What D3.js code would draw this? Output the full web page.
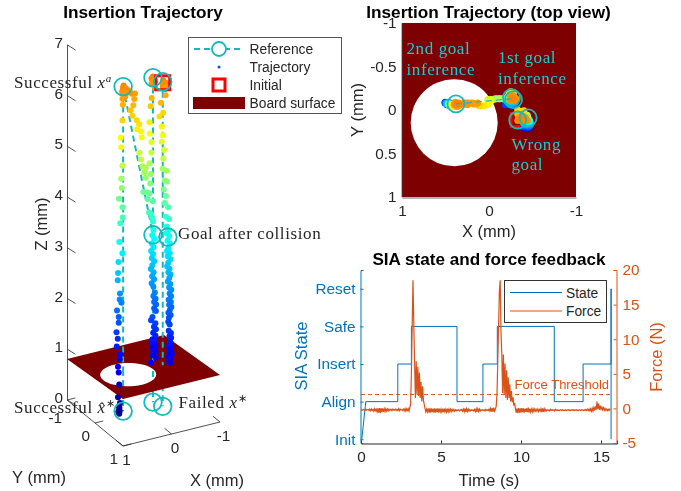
<!DOCTYPE html>
<html>
<head>
<meta charset="utf-8">
<script src="https://cdnjs.cloudflare.com/ajax/libs/d3/7.8.5/d3.min.js"></script>
<style>
html, body { margin: 0; padding: 0; background: #fff; }
svg { display: block; filter: blur(.35px); }
text { font-family: "Liberation Sans", Arial, sans-serif; fill: #262626; }
.serif { font-family: "Liberation Serif", serif; font-size: 17px; letter-spacing: .6px; }
</style>
</head>
<body>
<svg id="chart" width="681" height="491"></svg>
<script>
// trajectory samples, [x, y, z] in mm
var trackRight = [
    [-.35,.10,6.42],[-.33,.12,6.38],[-.36,.08,6.34],[-.34,.10,6.3],[-.40,.10,6.36],[-.44,.12,6.32],[-.38,.13,6.3],
    [-.42,.09,6.27],[-.385,.09,6.23],[-.41,.08,6.1],[-.33,.05,5.96],
    [-.40,.01,5.73],[-.33,.0,5.67],[-.365,.02,5.47],[-.38,.03,5.3],[-.365,.02,5.17],[-.40,.04,5.01],[-.38,.05,4.85],
    [-.365,.05,4.65],[-.44,.06,4.6],[-.40,.07,4.42],[-.44,.08,4.39],[-.37,.08,4.25],[-.41,.09,4.12],[-.38,.10,3.99],
    [-.45,.10,3.89],[-.40,.11,3.72],[-.46,.11,3.66],[-.41,.12,3.53],[-.44,.12,3.45],[-.40,.13,3.4],[-.46,.12,3.33],
    [-.42,.13,3.25],[-.47,.13,3.18],[-.43,.14,3.1],[-.41,.13,3.05],[-.46,.14,3],[-.42,.14,2.95],[-.47,.15,2.88],
    [-.43,.14,2.82],[-.40,.15,2.76],[-.45,.15,2.7],[-.42,.16,2.64],[-.47,.15,2.58],[-.44,.16,2.52],[-.41,.16,2.46],
    [-.46,.16,2.4],[-.43,.17,2.34],[-.48,.16,2.28],[-.44,.17,2.22],[-.47,.17,2.16],[-.42,.17,2.1],[-.46,.18,2.05],
    [-.43,.17,2],[-.47,.18,1.95],[-.44,.18,1.9],[-.41,.18,1.85],[-.45,.19,1.8],[-.42,.18,1.75],[-.40,.19,1.68],
    [-.43,.19,1.62],[-.41,.19,1.5],[-.45,.20,1.45],[-.42,.20,1.4],[-.46,.19,1.35],[-.43,.20,1.3],[-.45,.20,1.25],
    [-.41,.20,1.2],[-.44,.21,1.15],[-.42,.20,1.1],[-.46,.21,1.05],[-.40,.21,1],[-.44,.20,.96],[-.41,.21,.91],[-.43,.20,.87]
];
var trackMiddle = [
    [-.27,-.13,6.42],[-.25,-.15,6.38],[-.29,-.12,6.35],[-.26,-.11,6.32],[-.29,-.15,6.28],[-.24,-.12,6.3],[-.30,-.10,6.33],
    [-.27,-.17,6.25],[-.31,-.13,6.19],[-.26,-.16,5.99],
    [-.25,-.18,5.82],[-.24,-.20,5.5],[-.25,-.21,5.27],[-.28,-.20,5.1],[-.27,-.19,4.9],[-.23,-.18,4.7],[-.25,-.17,4.49],
    [-.23,-.16,4.31],[-.21,-.15,4.12],[-.28,-.15,3.95],[-.23,-.14,3.72],[-.27,-.13,3.56],[-.28,-.13,3.39],[-.25,-.12,3.3],
    [-.29,-.12,3.22],[-.24,-.12,3.14],[-.27,-.11,3.06],[-.22,-.11,3],[-.26,-.11,2.93],[-.23,-.10,2.86],[-.28,-.10,2.79],
    [-.24,-.10,2.72],[-.21,-.10,2.65],[-.26,-.09,2.58],[-.23,-.09,2.51],[-.27,-.09,2.44],[-.22,-.09,2.37],[-.25,-.08,2.3],
    [-.28,-.08,2.18],[-.25,-.08,2.12],[-.29,-.07,2.06],[-.26,-.07,2],[-.30,-.07,1.94],[-.26,-.07,1.88],[-.29,-.06,1.82],
    [-.22,-.06,1.72],[-.19,-.06,1.66],[-.28,-.06,1.58],[-.25,-.06,1.52],[-.29,-.06,1.46],[-.24,-.07,1.4],[-.28,-.06,1.34],
    [-.22,-.06,1.28],[-.26,-.06,1.24],[-.21,-.07,1.2],[-.25,-.06,1.16],[-.28,-.06,1.12],[-.23,-.06,1.1],[-.25,-.07,1.07],
    [-.28,-.06,1.02],[-.22,-.07,.96],[-.29,-.06,.9],[-.19,-.06,.83]
];
var trackDiagonal = [
    [-.25,-.13,3.64],[-.19,-.13,3.76],[-.16,-.13,4.03],[-.16,-.13,4.16],[-.07,-.13,4.19],[-.09,-.13,4.57],[-.12,-.13,4.46],
    [-.12,-.13,4.66],[-.05,-.12,4.71],[-.02,-.12,4.85],[.015,-.12,4.99],[-.02,-.1,5.29],[.015,-.06,5.43],[.06,-.05,5.59],
    [.10,-.05,5.5],[.11,-.05,5.68],[.19,-.07,5.78],[.22,-.08,5.89],[.17,-.07,5.98],[.15,-.07,6.1],[.19,-.08,6.21],
    [.13,-.08,6.2],[.25,-.08,6.25],[.25,-.06,6.28],[.28,-.08,6.3],[.32,-.07,6.35]
];
var trackLeft = [
    [.37,-.07,6.42],[.39,-.06,6.38],[.35,-.08,6.36],[.37,-.04,6.33],[.39,-.09,6.3],[.35,-.05,6.28],[.37,-.06,6.25],
    [.34,-.06,6.2],[.40,-.06,6.17],[.39,-.06,6.05],[.40,-.06,5.74],[.435,-.06,5.41],[.435,-.04,5.23],[.40,-.06,4.85],
    [.42,-.07,4.59],[.42,-.05,4.42],[.465,-.07,4.21],[.40,-.06,4.03],[.40,-.05,3.83],[.44,-.07,3.72],[.465,-.06,3.36],
    [.40,-.06,3.12],[.47,-.08,2.96],[.485,-.07,2.75],[.485,-.08,2.6],[.45,-.06,2.34],[.45,-.07,2.22],[.42,-.06,2.15],
    [.50,-.08,2.01],[.47,-.07,1.88],[.465,-.08,1.76],[.505,-.09,1.58],[.485,-.08,1.45],[.505,-.08,1.3],[.45,-.06,1.15],
    [.45,-.07,1.04],[.485,-.07,.9],[.465,-.08,.78],[.465,-.06,.55],[.485,-.07,.3],[.45,-.06,.18],[.47,-.07,.12],
    [.45,-.08,.08],[.47,-.06,.04],[.45,-.07,.02],[.47,-.08,0],[.46,-.07,-.03],[.48,-.06,.02]
];

// reference goals
var goalA = [.38,-.07], goalB = [-.27,-.13], goalC = [-.33,.115], goalD = [-.45,.09];
var goalTopZ = 6.4, goalMidZ = 3.3, goalLowZ = 0;
var refSegments = [
    [goalA, goalTopZ, goalA, goalLowZ],
    [goalA, goalTopZ, goalB, goalMidZ],
    [goalB, goalTopZ, goalB, goalLowZ],
    [goalC, goalTopZ, goalC, goalLowZ]
];
var refCircles = [
    [goalA, goalTopZ], [goalA, goalLowZ], [goalB, goalTopZ], [goalB, goalMidZ],
    [goalB, goalLowZ], [goalC, goalTopZ], [goalC, goalLowZ], [goalD, goalMidZ]
];
var initialPoint = [-.33,.115,6.38];
var boardZ = .81, holeCenter = [.40,.146], holeRadius = .5;

// SIA state steps, [time, state]
var stateNames = ["Init","Align","Insert","Safe","Reset"];
var stateSteps = [
    [.05,0],[.3,1],[2.3,1],[2.3,2],[3.15,2],[3.15,3],[6,3],[6,1],[7.62,1],[7.62,2],[8.52,2],[8.52,3],
    [12.08,3],[12.08,1],[13.88,1],[13.88,2],[15.63,2],[15.63,4],[15.63,0]
];

// force samples, one every .05 s from t = 0
var forceStep = .05;
var forceValues = [
    -.2,-.2,-.25,-.15,-.2,-.3,-.1,-.25,-.2,-.15,-.3,-.1,-.35,-.1,-.3,-.15,-.4,-.05,-.35,-.1,
    -.5,0,-.6,.05,-.7,.05,-.55,0,-.5,-.05,-.45,-.05,-.4,-.1,-.35,-.1,-.3,-.15,-.3,-.1,
    -.3,-.15,-.25,-.1,-.3,-.15,-.3,-.05,-.35,-.1,-.25,-.2,-.3,-.1,-.35,-.05,-.4,-.05,-.3,-.05,
    -.4,.1,.6,5,12,18.5,12,6.5,1.5,6.8,2,6,1.8,5.2,1.5,3.8,1,3.2,1.2,.6,
    0,-.5,-.1,-.5,0,-.6,0,-.6,0,-.55,-.05,-.6,0,-.6,-.05,-.55,0,-.6,-.05,-.5,
    -.1,-.5,-.05,-.55,-.05,-.5,-.1,-.5,-.05,-.5,-.1,-.45,-.1,-.45,-.15,-.4,-.15,-.4,-.2,-.35,
    -.2,-.3,-.2,-.35,-.2,-.3,-.15,-.4,-.1,-.5,0,-.5,-.05,-.45,-.1,-.4,-.15,-.35,-.2,-.3,
    -.2,-.35,-.15,-.45,-.05,-.5,-.05,-.45,-.1,-.4,-.2,-.3,-.2,-.3,-.2,-.35,-.15,-.3,-.2,-.3,
    -.1,-.4,0,-.45,.05,-.5,.1,-.4,-.1,.3,2,7,12,17,18.5,11,7.9,2.2,7.8,2,
    6.5,1.5,5.5,1.2,4.5,1.5,3.5,1,2.5,.9,1.6,.4,.8,0,-.6,0,-.7,.05,-.6,0,
    -.6,.05,-.55,0,-.6,-.05,-.5,0,-.55,.1,-.6,-.05,-.5,-.1,-.5,-.05,-.45,-.1,-.4,-.15,
    -.4,-.1,-.45,-.15,-.4,-.05,-.55,0,-.5,-.05,-.4,-.15,-.35,-.2,-.3,-.2,-.35,-.15,-.3,-.2,
    -.3,-.2,-.35,-.15,-.3,-.2,-.3,-.25,-.3,-.2,-.25,-.3,-.2,-.3,-.25,-.3,-.2,-.3,-.25,-.2,
    -.3,-.2,-.3,-.25,-.2,-.3,-.2,-.3,-.25,-.2,-.3,-.25,-.3,-.2,-.25,-.3,-.2,-.25,-.3,-.2,
    -.3,-.15,-.3,-.1,-.3,-.1,-.35,-.05,-.4,0,-.4,.1,-.3,.3,-.2,1,-.1,.7,-.2,.4,
    -.1,.2,-.2,.1,-.3,0,-.3,-.1,-.3,-.1,-.3,-.1,-.2
];
var forceThreshold = 2;

var zTicks = [0,1,2,3,4,5,6,7];
var floorTicks = [1,0,-1];
var topYTicks = [-1,-.5,0,.5,1];
var timeTicks = [0,5,10,15];
var forceTicks = [-5,0,5,10,15,20];

var refColor = "#14b9bd", boardColor = "#7f0000", stateColor = "#0072BD", forceColor = "#D95319";
var labelCyan = "#14cdd0", axisColor = "#262626";

var svg = d3.select("#chart");

function addText(g, x, y, str, size, opts) {
    opts = opts || {};
    var t = g.append("text")
        .attr("x", x)
        .attr("y", y)
        .attr("text-anchor", opts.anchor || "middle")
        .style("font-size", size + "px")
        .text(str);
    if (opts.bold) t.style("font-weight", "bold");
    if (opts.fill) t.style("fill", opts.fill);
    if (opts.rotate) t.attr("transform", "rotate(" + opts.rotate + "," + x + "," + y + ")");
    return t;
}

function serifText(g, x, y, str, fill) {
    var t = g.append("text").attr("class", "serif").attr("x", x).attr("y", y).text(str);
    if (fill) t.style("fill", fill);
    return t;
}

function mathLabel(t, base, sup) {
    t.append("tspan").style("font-style", "italic").text(" " + base);
    t.append("tspan").attr("dy", -6).style("font-style", sup == "a" ? "italic" : "normal").style("font-size", "11px").text(sup);
}

// ---- 3D view
var uScale = d3.scaleLinear().domain([1, -1]).range([0, 1]);
var vScale = d3.scaleLinear().domain([-1, 1]).range([0, 1]);
var zScale = d3.scaleLinear().domain([0, 7]).range([400, 45]);

function project(p) {
    var u = uScale(p[0]), v = vScale(p[1]);
    return [67 + 97 * u + 56 * v, zScale(p[2]) - 24 * u + 40 * v];
}

// the floor axes sit a little lower at the front than the data plane
function projectFloor(x, y) {
    var u = uScale(x), v = vScale(y);
    return [67 + 97 * u + 56 * v, 400 - 24 * u + 46 * v];
}

var jet = d3.scaleLinear()
    .domain([0, .125, .375, .625, .875, 1].map(function(d) { return d * 8.6; }))
    .range(["#000090", "#0000ff", "#00ffff", "#ffff00", "#ff0000", "#800000"])
    .clamp(true);

var line3d = d3.line();
var view3d = svg.append("g");

function drawSeg(g, a, b) {
    g.append("path")
        .attr("d", line3d([project(a), project(b)]))
        .attr("fill", "none")
        .attr("stroke", refColor)
        .attr("stroke-width", 2)
        .attr("stroke-dasharray", "6,4");
}

function drawAxis3d() {
    var g = view3d.append("g").attr("stroke", axisColor).attr("stroke-width", .8);
    g.append("line")
        .attr("x1", 67.5).attr("x2", 67.5)
        .attr("y1", zScale(7)).attr("y2", zScale(0));
    var corner = projectFloor(1, 1), left = projectFloor(1, -1), right = projectFloor(-1, 1);
    g.append("path").attr("fill", "none").attr("d", line3d([left, corner, right]));

    zTicks.forEach(function(d) {
        g.append("line")
            .attr("x1", 67.5).attr("y1", zScale(d))
            .attr("x2", 75.5).attr("y2", zScale(d) + 5);
        addText(view3d, 63, zScale(d) + 3, d, 15.3, {anchor: "end"});
    });
    floorTicks.forEach(function(d) {
        var a = projectFloor(d, 1), b = projectFloor(d, .75);
        g.append("line").attr("x1", a[0]).attr("y1", a[1]).attr("x2", b[0]).attr("y2", b[1]);
        addText(view3d, a[0] + 3.5, a[1] + 19, d, 15.3);

        a = projectFloor(1, d * -1);
        b = projectFloor(.83, d * -1);
        g.append("line").attr("x1", a[0]).attr("y1", a[1]).attr("x2", b[0]).attr("y2", b[1]);
        addText(view3d, a[0] - 5, a[1] + (d == 1 ? 23 : 18), d * -1, 15.3, {anchor: "end"});
    });
    addText(view3d, 47, 224, "Z (mm)", 16.5, {rotate: -90});
    addText(view3d, 39, 483, "Y (mm)", 16.5);
    addText(view3d, 217, 486, "X (mm)", 16.5);
}

drawAxis3d();

// what is under the board goes first so the board hides it
var under = view3d.append("g");
refSegments.forEach(function(s) {
    var t = (boardZ - s[3]) / (s[1] - s[3]);
    var mid = [s[2][0] + (s[0][0] - s[2][0]) * t, s[2][1] + (s[0][1] - s[2][1]) * t, boardZ];
    if (s[3] < boardZ) drawSeg(under, mid, [s[2][0], s[2][1], s[3]]);
});

var holePts = d3.range(0, 361, 6).map(function(a) {
    var r = a * Math.PI / 180;
    return project([holeCenter[0] + holeRadius * Math.cos(r), holeCenter[1] + holeRadius * Math.sin(r), boardZ]);
});
var boardPts = [[1,-1],[-1,-1],[-1,1],[1,1]].map(function(c) { return project([c[0], c[1], boardZ]); });
view3d.append("path")
    .attr("d", d3.line()(boardPts) + "Z" + d3.line()(holePts) + "Z")
    .attr("fill", boardColor)
    .attr("fill-rule", "evenodd");

refSegments.forEach(function(s) {
    var t = (boardZ - s[3]) / (s[1] - s[3]);
    var mid = [s[2][0] + (s[0][0] - s[2][0]) * t, s[2][1] + (s[0][1] - s[2][1]) * t, boardZ];
    drawSeg(view3d, [s[0][0], s[0][1], s[1]], s[3] < boardZ ? mid : [s[2][0], s[2][1], s[3]]);
});

var allTracks = trackRight.concat(trackMiddle, trackDiagonal, trackLeft);

view3d.append("g").selectAll("circle")
    .data(allTracks)
    .enter().append("circle")
    .attr("cx", function(d) { return project(d)[0]; })
    .attr("cy", function(d) { return project(d)[1]; })
    .attr("r", 3)
    .attr("fill", function(d) { return jet(d[2]); });

var initial3d = project(initialPoint);
view3d.append("rect")
    .attr("x", initial3d[0] - 7).attr("y", initial3d[1] - 7)
    .attr("width", 14).attr("height", 14)
    .attr("fill", "none").attr("stroke", "#ff0000").attr("stroke-width", 3);

view3d.append("g").selectAll("circle")
    .data(refCircles)
    .enter().append("circle")
    .attr("cx", function(d) { return project([d[0][0], d[0][1], d[1]])[0]; })
    .attr("cy", function(d) { return project([d[0][0], d[0][1], d[1]])[1]; })
    .attr("r", 8.8)
    .attr("fill", "none")
    .attr("stroke", refColor)
    .attr("stroke-width", 1.8);

addText(view3d, 143, 18, "Insertion Trajectory", 17.2, {bold: true, fill: "#000"});

mathLabel(serifText(view3d, 14, 88, "Successful"), "x", "a");
mathLabel(serifText(view3d, 14, 413, "Successful"), "x\u0302", "\u2217");
serifText(view3d, 178, 239, "Goal after collision");
mathLabel(serifText(view3d, 178.5, 408, "Failed"), "x", "\u2217");

// 3D legend
var legend3d = svg.append("g");
legend3d.append("rect")
    .attr("x", 188.5).attr("y", 37.5)
    .attr("width", 153).attr("height", 76)
    .attr("fill", "#fff").attr("stroke", "#555").attr("stroke-width", 1);
legend3d.append("line")
    .attr("x1", 194).attr("x2", 242).attr("y1", 49).attr("y2", 49)
    .attr("stroke", refColor).attr("stroke-width", 1.8).attr("stroke-dasharray", "6,4");
legend3d.append("circle")
    .attr("cx", 219).attr("cy", 49).attr("r", 7)
    .attr("fill", "#fff").attr("stroke", refColor).attr("stroke-width", 1.8);
legend3d.append("circle")
    .attr("cx", 219).attr("cy", 67).attr("r", 1.5).attr("fill", "#0050ff");
legend3d.append("rect")
    .attr("x", 213).attr("y", 79).attr("width", 12).attr("height", 12)
    .attr("fill", "#fff").attr("stroke", "#ff0000").attr("stroke-width", 3);
legend3d.append("rect")
    .attr("x", 193).attr("y", 97).attr("width", 52).attr("height", 12).attr("fill", boardColor);
["Reference", "Trajectory", "Initial", "Board surface"].forEach(function(d, i) {
    addText(legend3d, 249.5, 54 + i * 18, d, 13.8, {anchor: "start"});
});

// ---- top view
var topX = d3.scaleLinear().domain([1, -1]).range([402, 576]);
var topY = d3.scaleLinear().domain([-1, 1]).range([23, 197]);
var viewTop = svg.append("g");

viewTop.append("rect")
    .attr("x", topX(1)).attr("y", topY(-1))
    .attr("width", topX(-1) - topX(1)).attr("height", topY(1) - topY(-1))
    .attr("fill", boardColor);
viewTop.append("circle")
    .attr("cx", topX(holeCenter[0])).attr("cy", topY(holeCenter[1]))
    .attr("r", topY(holeRadius) - topY(0))
    .attr("fill", "#fff");

viewTop.append("rect")
    .attr("x", topX(initialPoint[0]) - 6.5).attr("y", topY(initialPoint[1]) - 6.5)
    .attr("width", 13).attr("height", 13)
    .attr("fill", "none").attr("stroke", "#ff0000").attr("stroke-width", 3);

viewTop.append("g").selectAll("circle")
    .data(allTracks.slice().sort(function(a, b) { return a[2] - b[2]; }))
    .enter().append("circle")
    .attr("cx", function(d) { return topX(d[0]); })
    .attr("cy", function(d) { return topY(d[1]); })
    .attr("r", 3.5)
    .attr("fill", function(d) { return jet(d[2]); });

viewTop.append("path")
    .attr("d", d3.line()([goalA, goalB].map(function(d) { return [topX(d[0]), topY(d[1])]; })))
    .attr("fill", "none").attr("stroke", refColor).attr("stroke-width", 1.2).attr("stroke-dasharray", "6,4");

viewTop.append("g").selectAll("circle")
    .data([[goalA, 0], [goalB, -1], [goalB, 1], [goalC, 0], [goalD, 0]])
    .enter().append("circle")
    .attr("cx", function(d) { return topX(d[0][0]) + d[1]; })
    .attr("cy", function(d) { return topY(d[0][1]) + d[1]; })
    .attr("r", 8.5)
    .attr("fill", "none").attr("stroke", refColor).attr("stroke-width", 1.8);

var topYAxis = viewTop.append("g")
    .attr("transform", "translate(401.5,0)")
    .call(d3.axisLeft(topY).tickValues(topYTicks).tickSize(0).tickPadding(5).tickFormat(String));
var topXAxis = viewTop.append("g")
    .attr("transform", "translate(0,197.5)")
    .call(d3.axisBottom(topX).tickValues(floorTicks).tickSize(0).tickPadding(8).tickFormat(String));
[topYAxis, topXAxis].forEach(function(a) {
    a.selectAll("text").style("font-size", "15.3px").style("font-family", null);
    a.select(".domain").attr("stroke", "#444").attr("stroke-width", .8);
});

addText(viewTop, 488.5, 18, "Insertion Trajectory (top view)", 17.2, {bold: true, fill: "#000"});
addText(viewTop, 363, 110, "Y (mm)", 16.5, {rotate: -90});
addText(viewTop, 489, 237, "X (mm)", 16.5);

serifText(viewTop, 406.5, 54, "2nd goal", labelCyan);
serifText(viewTop, 406.5, 75, "inference", labelCyan);
serifText(viewTop, 498, 63, "1st goal", labelCyan);
serifText(viewTop, 498, 84, "inference", labelCyan);
serifText(viewTop, 511.5, 150, "Wrong", labelCyan);
serifText(viewTop, 511.5, 170, "goal", labelCyan);

// ---- state and force
var timeScale = d3.scaleLinear().domain([0, 16]).range([361, 617]);
var stateScale = d3.scaleLinear().domain([-.1, 4.5]).range([443, 270]);
var forceScale = d3.scaleLinear().domain([-5, 20]).range([443, 270]);
var viewState = svg.append("g");

var stateLine = d3.line()
    .x(function(d) { return timeScale(d[0]); })
    .y(function(d) { return stateScale(d[1]); });
viewState.append("path")
    .attr("d", stateLine(stateSteps))
    .attr("fill", "none").attr("stroke", stateColor).attr("stroke-width", 1);

var forceLine = d3.line()
    .x(function(d, i) { return timeScale(i * forceStep); })
    .y(function(d) { return forceScale(d); });
viewState.append("path")
    .attr("d", forceLine(forceValues))
    .attr("fill", "none").attr("stroke", forceColor).attr("stroke-width", 1.2);

viewState.append("line")
    .attr("x1", timeScale(0)).attr("x2", timeScale(15.65))
    .attr("y1", forceScale(forceThreshold)).attr("y2", forceScale(forceThreshold))
    .attr("stroke", forceColor).attr("stroke-width", 1).attr("stroke-dasharray", "4,3");
addText(viewState, 609, 389, "Force Threshold", 13, {anchor: "end", fill: forceColor});

var timeAxis = viewState.append("g")
    .attr("transform", "translate(0,443.5)")
    .call(d3.axisBottom(timeScale).tickValues(timeTicks).tickSize(-3).tickPadding(8).tickFormat(String));
var stateAxis = viewState.append("g")
    .attr("transform", "translate(360.5,0)")
    .call(d3.axisLeft(stateScale).tickValues([0,1,2,3,4]).tickSize(-3).tickPadding(5)
        .tickFormat(function(d) { return stateNames[d]; }));
var forceAxis = viewState.append("g")
    .attr("transform", "translate(616.5,0)")
    .call(d3.axisRight(forceScale).tickValues(forceTicks).tickSize(-3).tickPadding(6).tickFormat(String));

function styleAxis(a, color) {
    a.selectAll("text").style("font-size", "15.3px").style("font-family", null).style("fill", color);
    a.selectAll("line").attr("stroke", color);
    a.select(".domain").attr("stroke", color);
}
styleAxis(timeAxis, axisColor);
styleAxis(stateAxis, stateColor);
styleAxis(forceAxis, forceColor);

addText(viewState, 489, 265, "SIA state and force feedback", 17.1, {bold: true, fill: "#000"});
addText(viewState, 489, 486, "Time (s)", 16.8);
addText(viewState, 307, 356, "SIA State", 16.5, {rotate: -90, fill: stateColor});
addText(viewState, 662, 357, "Force (N)", 16.5, {rotate: -90, fill: forceColor});

// state legend
var legendState = svg.append("g");
legendState.append("rect")
    .attr("x", 504.5).attr("y", 280.5).attr("width", 102).attr("height", 42)
    .attr("fill", "#fff").attr("stroke", "#333").attr("stroke-width", 1);
legendState.append("line")
    .attr("x1", 510).attr("x2", 562).attr("y1", 292.5).attr("y2", 292.5)
    .attr("stroke", stateColor).attr("stroke-width", 1);
legendState.append("line")
    .attr("x1", 510).attr("x2", 562).attr("y1", 311).attr("y2", 311)
    .attr("stroke", forceColor).attr("stroke-width", 1);
addText(legendState, 566, 297.5, "State", 13.8, {anchor: "start"});
addText(legendState, 566, 316, "Force", 13.8, {anchor: "start"});
</script>
</body>
</html>
